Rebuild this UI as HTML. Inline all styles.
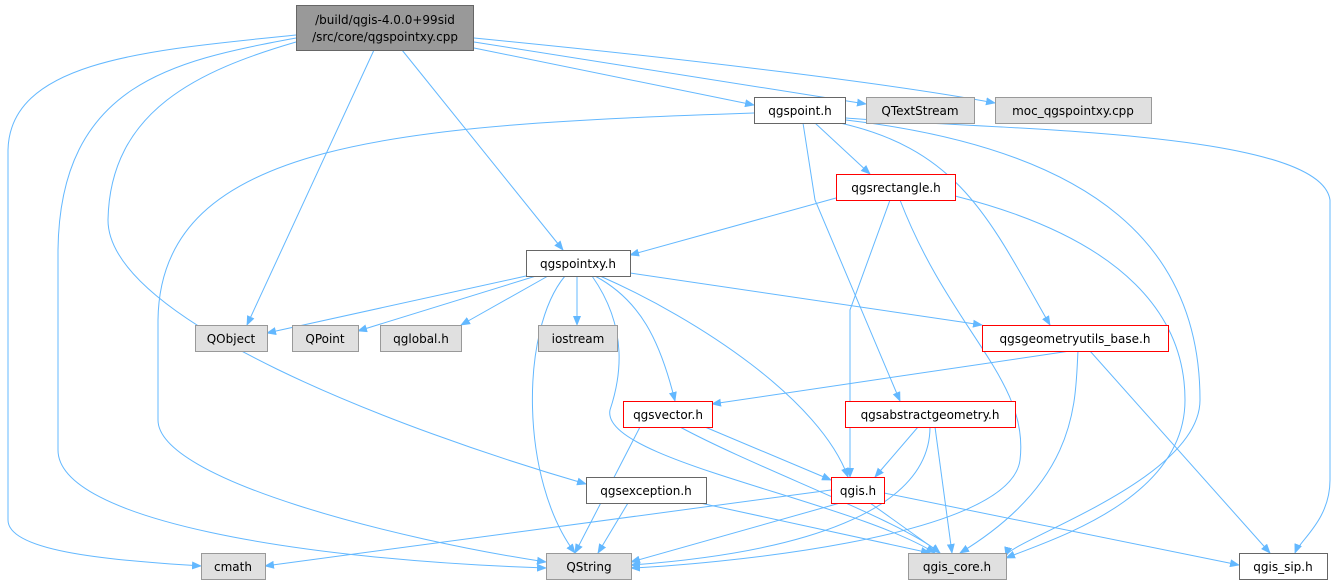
<!DOCTYPE html>
<html><head><meta charset="utf-8"><style>
body{margin:0;background:#fff;}
svg{display:block;font-family:"DejaVu Sans","Liberation Sans",sans-serif;}
text{font-size:12px;fill:#000;text-anchor:middle;}
.e{fill:none;stroke:#63b8ff;stroke-width:1;}
</style></head><body>
<svg width="1337" height="585" viewBox="0 0 1337 585" xmlns="http://www.w3.org/2000/svg">
<defs><marker id="a" markerWidth="10" markerHeight="8" refX="9" refY="4" orient="auto" markerUnits="userSpaceOnUse"><path d="M0,0L10,4L0,8z" fill="#63b8ff"/></marker></defs>
<g class="e" marker-end="url(#a)">
<path d="M296,35C150,50 10,60 8,150 L8,520C8,550 100,560 201,566"/>
<path d="M296,38C180,60 60,80 58,250 L58,450C58,520 300,560 546,568"/>
<path d="M296,42C200,70 110,110 108,220 C108,320 400,430 586,484"/>
<path d="M374,50L247,325"/>
<path d="M402,50L563,250"/>
<path d="M474,48L754,105"/>
<path d="M474,42L866,104"/>
<path d="M474,38C700,60 900,85 995,103"/>
<path d="M754,113C400,125 160,140 158,320 L158,420C158,480 400,540 546,562"/>
<path d="M803,123L815,200 L900,401"/>
<path d="M815,123L870,174"/>
<path d="M840,123C960,150 990,220 1050,325"/>
<path d="M846,120C1100,150 1200,250 1200,400 C1200,480 1010,540 1006,556"/>
<path d="M846,118C1000,130 1320,130 1330,200 L1330,480C1330,520 1300,540 1295,553"/>
<path d="M836,198L630,255"/>
<path d="M890,200L850,310 L850,477"/>
<path d="M900,200C950,330 1030,380 1020,460 C1010,540 700,565 631,568"/>
<path d="M955,196C1130,240 1185,320 1185,400 C1185,500 1050,540 1006,558"/>
<path d="M526,276L267,333"/>
<path d="M536,276L358,331"/>
<path d="M548,276L461,325"/>
<path d="M577,276L577,325"/>
<path d="M565,276C520,330 520,480 575,553"/>
<path d="M595,276C640,300 660,340 675,401"/>
<path d="M592,276C630,330 620,380 610,410 C600,460 850,500 935,553"/>
<path d="M600,276C700,320 820,400 848,477"/>
<path d="M630,273L982,325"/>
<path d="M1070,351L712,404"/>
<path d="M1078,351C1075,400 1080,480 960,553"/>
<path d="M1090,351L1270,553"/>
<path d="M640,427L575,553"/>
<path d="M680,427C760,470 900,520 940,553"/>
<path d="M705,427L831,480"/>
<path d="M918,427L875,477"/>
<path d="M930,427C930,540 700,560 631,565"/>
<path d="M935,427L952,553"/>
<path d="M628,503L598,553"/>
<path d="M700,503L930,553"/>
<path d="M831,490L265,566"/>
<path d="M840,503L631,562"/>
<path d="M870,503L940,553"/>
<path d="M884,493L1239,565"/>
</g>
<g stroke-width="1">
<rect x="296.5" y="5.5" width="177" height="45" fill="#999" stroke="#666"/>
<rect x="754.5" y="97.5" width="91" height="26" fill="#fff" stroke="#666"/>
<rect x="866.5" y="97.5" width="108" height="26" fill="#e0e0e0" stroke="#999"/>
<rect x="995.5" y="97.5" width="156" height="26" fill="#e0e0e0" stroke="#999"/>
<rect x="836.5" y="174.5" width="119" height="26" fill="#fff" stroke="#f00"/>
<rect x="526.5" y="250.5" width="104" height="26" fill="#fff" stroke="#666"/>
<rect x="195.5" y="325.5" width="72" height="26" fill="#e0e0e0" stroke="#999"/>
<rect x="292.5" y="325.5" width="66" height="26" fill="#e0e0e0" stroke="#999"/>
<rect x="380.5" y="325.5" width="81" height="26" fill="#e0e0e0" stroke="#999"/>
<rect x="538.5" y="325.5" width="79" height="26" fill="#e0e0e0" stroke="#999"/>
<rect x="982.5" y="325.5" width="186" height="26" fill="#fff" stroke="#f00"/>
<rect x="623.5" y="401.5" width="89" height="26" fill="#fff" stroke="#f00"/>
<rect x="845.5" y="401.5" width="170" height="26" fill="#fff" stroke="#ff0000"/>
<rect x="586.5" y="477.5" width="120" height="26" fill="#fff" stroke="#666"/>
<rect x="831.5" y="477.5" width="53" height="26" fill="#fff" stroke="#f00"/>
<rect x="201.5" y="553.5" width="64" height="26" fill="#e0e0e0" stroke="#999"/>
<rect x="546.5" y="553.5" width="85" height="26" fill="#e0e0e0" stroke="#999"/>
<rect x="908.5" y="553.5" width="98" height="26" fill="#e0e0e0" stroke="#999"/>
<rect x="1239.5" y="553.5" width="88" height="26" fill="#fff" stroke="#666"/>
</g>
<text x="385" y="24">/build/qgis-4.0.0+99sid</text>
<text x="385" y="41">/src/core/qgspointxy.cpp</text>
<text x="800" y="115">qgspoint.h</text>
<text x="920" y="115">QTextStream</text>
<text x="1073" y="115">moc_qgspointxy.cpp</text>
<text x="896" y="192">qgsrectangle.h</text>
<text x="578" y="268">qgspointxy.h</text>
<text x="231" y="343">QObject</text>
<text x="325" y="343">QPoint</text>
<text x="421" y="343">qglobal.h</text>
<text x="578" y="343">iostream</text>
<text x="1075" y="343">qgsgeometryutils_base.h</text>
<text x="668" y="419">qgsvector.h</text>
<text x="930" y="419">qgsabstractgeometry.h</text>
<text x="646" y="495">qgsexception.h</text>
<text x="858" y="495">qgis.h</text>
<text x="233" y="571">cmath</text>
<text x="589" y="571">QString</text>
<text x="957" y="571">qgis_core.h</text>
<text x="1283" y="571">qgis_sip.h</text>
</svg>
</body></html>
